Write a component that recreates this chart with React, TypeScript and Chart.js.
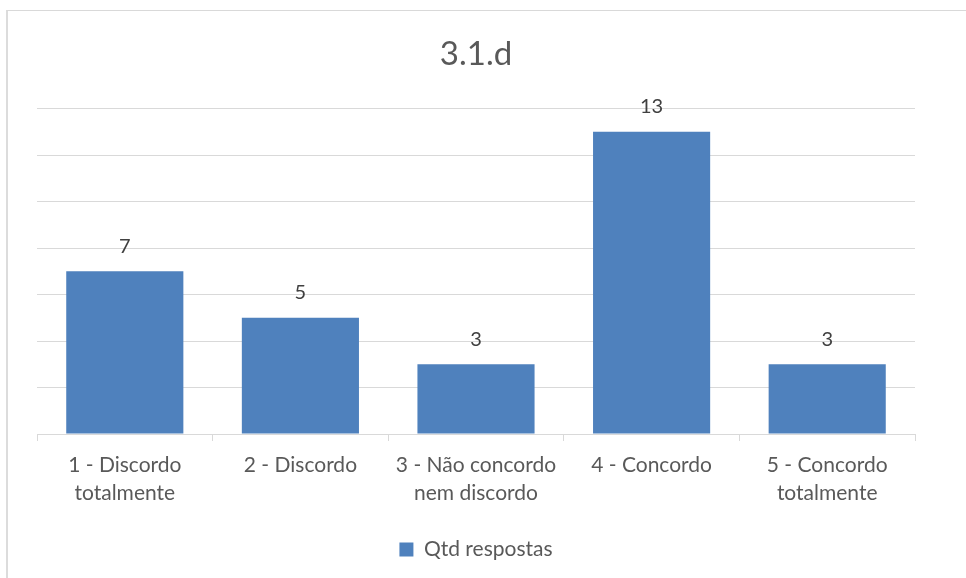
import React, { useEffect, useRef } from "react";
import { Chart, registerables } from "chart.js";

Chart.register(...registerables);

const categories: string[][] = [
  ["1 - Discordo", "totalmente"],
  ["2 - Discordo"],
  ["3 - Não concordo", "nem discordo"],
  ["4 - Concordo"],
  ["5 - Concordo", "totalmente"],
];
const seriesName = "Qtd respostas";
const respostas: number[] = [7, 5, 3, 13, 3];
const yMax = 14;
const yStep = 2;

const FONT = "Lato, 'Open Sans', sans-serif";
const BAR_COLOR = "#4F81BD";
const GRID_COLOR = "#D9D9D9";
const TEXT_COLOR = "#595959";

// Writes each bar's value centred above it
const valueLabels = {
  id: "valueLabels",
  afterDatasetsDraw(chart: Chart) {
    const { ctx } = chart;
    const meta = chart.getDatasetMeta(0);
    const values = chart.data.datasets[0].data as number[];
    ctx.save();
    ctx.font = `20px ${FONT}`;
    ctx.fillStyle = "#404040";
    ctx.textAlign = "center";
    ctx.textBaseline = "middle";
    meta.data.forEach((bar: any, i: number) => {
      ctx.fillText(String(values[i]), bar.x, bar.y - 25);
    });
    ctx.restore();
  },
};

export default function App() {
  const canvasRef = useRef<HTMLCanvasElement | null>(null);

  useEffect(() => {
    if (!canvasRef.current) return;
    const chart = new Chart(canvasRef.current, {
      type: "bar",
      data: {
        labels: categories,
        datasets: [
          {
            label: seriesName,
            data: respostas,
            backgroundColor: BAR_COLOR,
            borderWidth: 0,
            categoryPercentage: 1,
            barPercentage: 0.667,
          },
        ],
      },
      options: {
        animation: false,
        responsive: false,
        maintainAspectRatio: false,
        layout: { padding: { left: 37, right: 51, top: 0, bottom: 8 } },
        plugins: {
          title: {
            display: true,
            text: "3.1.d",
            color: TEXT_COLOR,
            font: { family: FONT, size: 33, weight: "normal" },
            padding: { top: 35, bottom: 34 },
          },
          legend: {
            display: true,
            position: "bottom",
            labels: {
              color: TEXT_COLOR,
              font: { family: FONT, size: 21 },
              boxWidth: 14,
              boxHeight: 14,
              padding: 10,
            },
          },
          tooltip: { enabled: false },
        },
        scales: {
          x: {
            grid: {
              display: true,
              drawOnChartArea: false,
              tickLength: 7,
              color: GRID_COLOR,
              offset: true,
            },
            border: { display: true, color: GRID_COLOR, width: 1 },
            ticks: {
              color: TEXT_COLOR,
              font: { family: FONT, size: 21, lineHeight: 1.333 },
              padding: 10,
              maxRotation: 0,
              autoSkip: false,
            },
            afterFit: (scale: any) => {
              // leave a gap between the category labels and the legend
              scale.height += 12;
            },
          },
          y: {
            min: 0,
            max: yMax,
            ticks: { display: false, stepSize: yStep },
            grid: { color: GRID_COLOR, drawTicks: false },
            border: { display: false },
            afterFit: (scale: any) => {
              scale.width = 0;
            },
          },
        },
      },
      plugins: [valueLabels],
    });
    return () => chart.destroy();
  }, []);

  return (
    <div
      style={{
        position: "fixed",
        left: 0,
        top: 0,
        width: 966,
        height: 578,
        overflow: "hidden",
        background: "#ffffff",
      }}
    >
      <div
        style={{
          position: "absolute",
          left: 6,
          top: 10,
          width: 1000,
          height: 700,
          borderLeft: "2px solid #DCDCDC",
          borderTop: "1px solid #D9D9D9",
        }}
      />
      <canvas
        ref={canvasRef}
        width={966}
        height={578}
        style={{ position: "absolute", left: 0, top: 0 }}
      />
    </div>
  );
}
